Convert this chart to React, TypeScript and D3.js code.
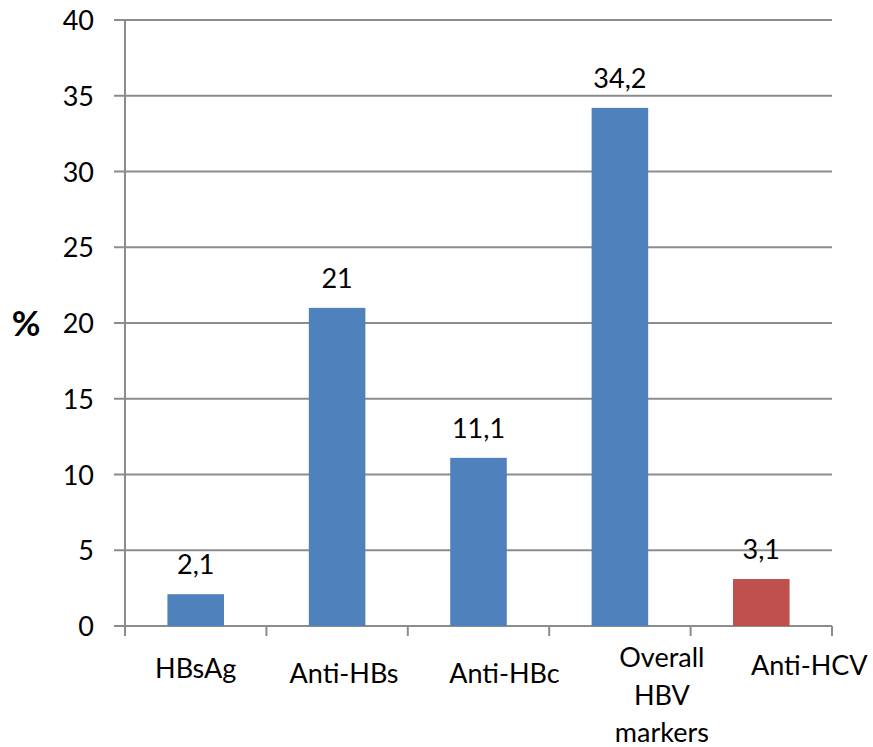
import React from "react";
import * as d3 from "d3";

// Seroprevalence of hepatitis markers (%)
const categories: string[][] = [
  ["HBsAg"],
  ["Anti-HBs"],
  ["Anti-HBc"],
  ["Overall", "HBV", "markers"],
  ["Anti-HCV"],
];
const values: number[] = [2.1, 21, 11.1, 34.2, 3.1];
const valueLabels: string[] = ["2,1", "21", "11,1", "34,2", "3,1"];
const barColors: string[] = ["#4F81BD", "#4F81BD", "#4F81BD", "#4F81BD", "#C0504D"];
const yTicks: number[] = [0, 5, 10, 15, 20, 25, 30, 35, 40];

// Layout
const W = 873;
const H = 747;
const plot = { left: 125, right: 832, top: 20, bottom: 626 };
const FONT = "Lato, 'Open Sans', sans-serif";
const FS = 27;
const GRID = "#8c8c8c";
// Category label nudges (x, baseline) as laid out by the original document
const labelDx = [0, 7, 26, 42, 48];
const labelBase = [678, 683, 683, 667, 675];
const lineGap = 37.5;

export default function App() {
  const keys = categories.map((c) => c.join(" "));
  const x = d3
    .scaleBand<string>()
    .domain(keys)
    .range([plot.left, plot.right])
    .paddingInner(0.6)
    .paddingOuter(0.3);
  const y = d3.scaleLinear().domain([0, 40]).range([plot.bottom, plot.top]);
  const step = x.step();
  const boundaries = d3.range(keys.length + 1).map((i) => plot.left + i * step);

  return (
    <svg width={W} height={H} style={{ display: "block", position: "absolute", left: 0, top: 0 }}>
      <rect width={W} height={H} fill="#fff" />
      {/* horizontal gridlines with tick stubs */}
      {yTicks.map((t) => (
        <line
          key={"g" + t}
          x1={plot.left - 11}
          x2={plot.right}
          y1={y(t)}
          y2={y(t)}
          stroke={GRID}
          strokeWidth={2}
        />
      ))}
      {/* y axis */}
      <line x1={plot.left} x2={plot.left} y1={plot.top} y2={plot.bottom + 10} stroke={GRID} strokeWidth={2} />
      {/* x axis tick marks at category boundaries */}
      {boundaries.map((bx, i) => (
        <line key={"xt" + i} x1={bx} x2={bx} y1={plot.bottom} y2={plot.bottom + 10} stroke={GRID} strokeWidth={2} />
      ))}
      {/* y tick labels */}
      {yTicks.map((t) => (
        <text
          key={"yl" + t}
          x={94}
          y={y(t) + 10}
          textAnchor="end"
          fontFamily={FONT}
          fontSize={FS}
          fill="#000"
        >
          {t}
        </text>
      ))}
      <text x={26} y={336} textAnchor="middle" fontFamily={FONT} fontSize={35} fontWeight="bold" fill="#000">
        %
      </text>
      {/* bars */}
      {values.map((v, i) => (
        <rect
          key={"b" + i}
          x={x(keys[i])!}
          y={y(v)}
          width={x.bandwidth()}
          height={y(0) - y(v)}
          fill={barColors[i]}
        />
      ))}
      {/* value labels */}
      {values.map((v, i) => (
        <text
          key={"v" + i}
          x={x(keys[i])! + x.bandwidth() / 2}
          y={y(v) - 20}
          textAnchor="middle"
          fontFamily={FONT}
          fontSize={FS}
          fill="#000"
        >
          {valueLabels[i]}
        </text>
      ))}
      {/* category labels */}
      {categories.map((lines, i) => (
        <text
          key={"c" + i}
          textAnchor="middle"
          fontFamily={FONT}
          fontSize={FS}
          fill="#000"
        >
          {lines.map((ln, j) => (
            <tspan key={j} x={x(keys[i])! + x.bandwidth() / 2 + labelDx[i]} y={labelBase[i] + j * lineGap}>
              {ln}
            </tspan>
          ))}
        </text>
      ))}
    </svg>
  );
}
